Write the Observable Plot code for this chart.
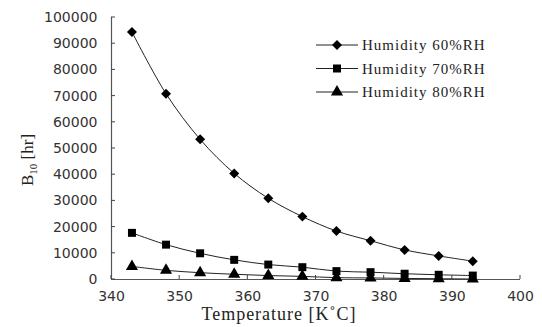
<!DOCTYPE html>
<html><head><meta charset="utf-8">
<script src="https://cdn.jsdelivr.net/npm/d3@7"></script>
<script src="https://cdn.jsdelivr.net/npm/@observablehq/plot@0.6"></script>
<style>
html,body{margin:0;padding:0;background:#fff;}
#chart{position:relative;width:542px;height:327px;}
</style></head>
<body><div id="chart"></div>
<script>
const temperature = [343, 348, 353, 358, 363, 368, 373, 378, 383, 388, 393];
const rh60 = [94500, 70900, 53500, 40500, 31000, 24000, 18500, 14800, 11300, 9000, 7000];
const rh70 = [17800, 13300, 10000, 7500, 5700, 4700, 3200, 2800, 2200, 1800, 1500];
const rh80 = [5000, 3500, 2600, 2000, 1500, 1200, 700, 600, 400, 300, 200];
const seriesNames = ["Humidity 60%RH", "Humidity 70%RH", "Humidity 80%RH"];
const seriesSymbols = ["diamond2", "square", "triangle"];
const xTicks = [340, 350, 360, 370, 380, 390, 400];
const yTicks = d3.range(0, 100001, 10000);

const data = [];
[rh60, rh70, rh80].forEach((vals, i) => vals.forEach((v, j) => data.push({t: temperature[j], v, s: seriesNames[i]})));

const serif = "'Liberation Serif', 'DejaVu Serif', serif";
const sans = "'DejaVu Sans', sans-serif";

const plot = Plot.plot({
  width: 542, height: 327,
  marginLeft: 111, marginRight: 22, marginTop: 17, marginBottom: 48,
  style: {fontFamily: sans, fontSize: "14px", color: "#222", background: "#fff"},
  x: {domain: [340, 400], label: null},
  y: {domain: [0, 100000], label: null},
  symbol: {domain: seriesNames, range: seriesSymbols},
  marks: [
    Plot.ruleY([0], {stroke: "#555", strokeWidth: 1.2}),
    Plot.ruleX([340], {stroke: "#555", strokeWidth: 1.2}),
    Plot.axisX({ticks: xTicks, tickSize: 0, tickPadding: 12, tickFormat: d => String(d), fontSize: 14, fill: "#333"}),
    Plot.axisY({ticks: yTicks, tickSize: 0, tickPadding: 14, tickFormat: d => String(d), fontSize: 14, fill: "#333"}),
    Plot.line(data, {x: "t", y: "v", z: "s", stroke: "#222", strokeWidth: 1, curve: "catmull-rom"}),
    Plot.dot(data, {x: "t", y: "v", symbol: "s", fill: "#000", stroke: "none", r: 4.5})
  ]
});

const svg = d3.select(plot);
// inside tick marks
const xs = plot.scale("x"), ys = plot.scale("y");
const x0 = xs.apply(340), y0 = ys.apply(0);
const tk = svg.append("g").attr("stroke", "#444");
xTicks.forEach(t => tk.append("line").attr("x1", xs.apply(t)).attr("x2", xs.apply(t)).attr("y1", y0).attr("y2", y0 - 4));
yTicks.forEach(t => tk.append("line").attr("x1", x0).attr("x2", x0 + 4).attr("y1", ys.apply(t)).attr("y2", ys.apply(t)));

// axis titles
svg.append("text").attr("x", 279).attr("y", 320).attr("text-anchor", "middle")
  .attr("font-family", serif).attr("font-size", 18).attr("letter-spacing", "1px").attr("fill", "#222").text("Temperature [K˚C]");
const yl = svg.append("text").attr("transform", "translate(33,160) rotate(-90)").attr("text-anchor", "middle")
  .attr("font-family", serif).attr("font-size", 17).attr("fill", "#222");
yl.append("tspan").text("B");
yl.append("tspan").attr("font-size", 11).attr("dy", 4).text("10");
yl.append("tspan").attr("dy", -4).text(" [hr]");

// legend
const lg = svg.append("g").attr("text-anchor", "start");
seriesNames.forEach((name, i) => {
  const y = 45 + i * 23.5;
  lg.append("line").attr("x1", 316).attr("x2", 358).attr("y1", y).attr("y2", y).attr("stroke", "#222").attr("stroke-width", 1);
  const sym = {diamond2: d3.symbolDiamond2, square: d3.symbolSquare, triangle: d3.symbolTriangle}[seriesSymbols[i]];
  lg.append("path").attr("d", d3.symbol(sym, 64)()).attr("transform", `translate(337,${y})`).attr("fill", "#000");
  lg.append("text").attr("x", 362).attr("y", y + 5).attr("font-family", serif).attr("font-size", 15)
    .attr("letter-spacing", "1px").attr("fill", "#222").text(name);
});

document.getElementById("chart").appendChild(plot);
</script>
</body></html>
